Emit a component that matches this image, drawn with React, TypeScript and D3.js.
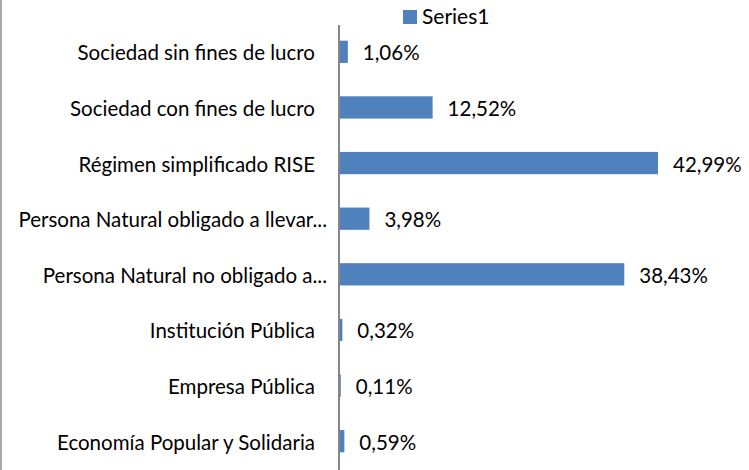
import React from "react";
import * as d3 from "d3";

const categories = [
  "Sociedad sin fines de lucro",
  "Sociedad con fines de lucro",
  "Régimen simplificado RISE",
  "Persona Natural obligado a llevar...",
  "Persona Natural no obligado a...",
  "Institución Pública",
  "Empresa Pública",
  "Economía Popular y Solidaria",
];
const values = [1.06, 12.52, 42.99, 3.98, 38.43, 0.32, 0.11, 0.59];
const valueLabels = ["1,06%", "12,52%", "42,99%", "3,98%", "38,43%", "0,32%", "0,11%", "0,59%"];
const seriesName = "Series1";

const W = 749;
const H = 470;
const FONT = "Lato, 'Liberation Sans Narrow', sans-serif";
const BLUE = "#4F81BD";

export default function App() {
  const x = d3.scaleLinear().domain([0, 42.99]).range([340, 658]);
  const y = d3.scaleBand<string>().domain(categories).range([24, 469]).paddingInner(0.6).paddingOuter(0.3);
  const bw = y.bandwidth();

  return (
    <svg width={W} height={H} style={{ position: "absolute", left: 0, top: 0, background: "#fff" }} fontFamily={FONT}>
      <rect x={0} y={0} width={W} height={H} fill="#fff" />
      <line x1={1} x2={1} y1={0} y2={H} stroke="#8a8a8a" strokeWidth={1.5} />
      {/* legend */}
      <rect x={403} y={10} width={14} height={14} fill={BLUE} />
      <text x={422} y={24} fontSize={21} fill="#000">{seriesName}</text>
      {categories.map((c, i) => {
        const yc = (y(c) as number) + bw / 2;
        return (
          <g key={c}>
            <rect x={x(0)} y={y(c)} width={Math.max(0, x(values[i]) - x(0))} height={bw} fill={BLUE} />
            <text x={x(values[i]) + 15} y={yc + 8.5} fontSize={20.5} fill="#000">{valueLabels[i]}</text>
            <text x={c.endsWith("...") ? 327 : 315} y={yc + 8.5} fontSize={20.5} textAnchor="end" fill="#000">{c}</text>
          </g>
        );
      })}
      <line x1={339} x2={339} y1={25} y2={H} stroke="#868686" strokeWidth={2} />
    </svg>
  );
}
